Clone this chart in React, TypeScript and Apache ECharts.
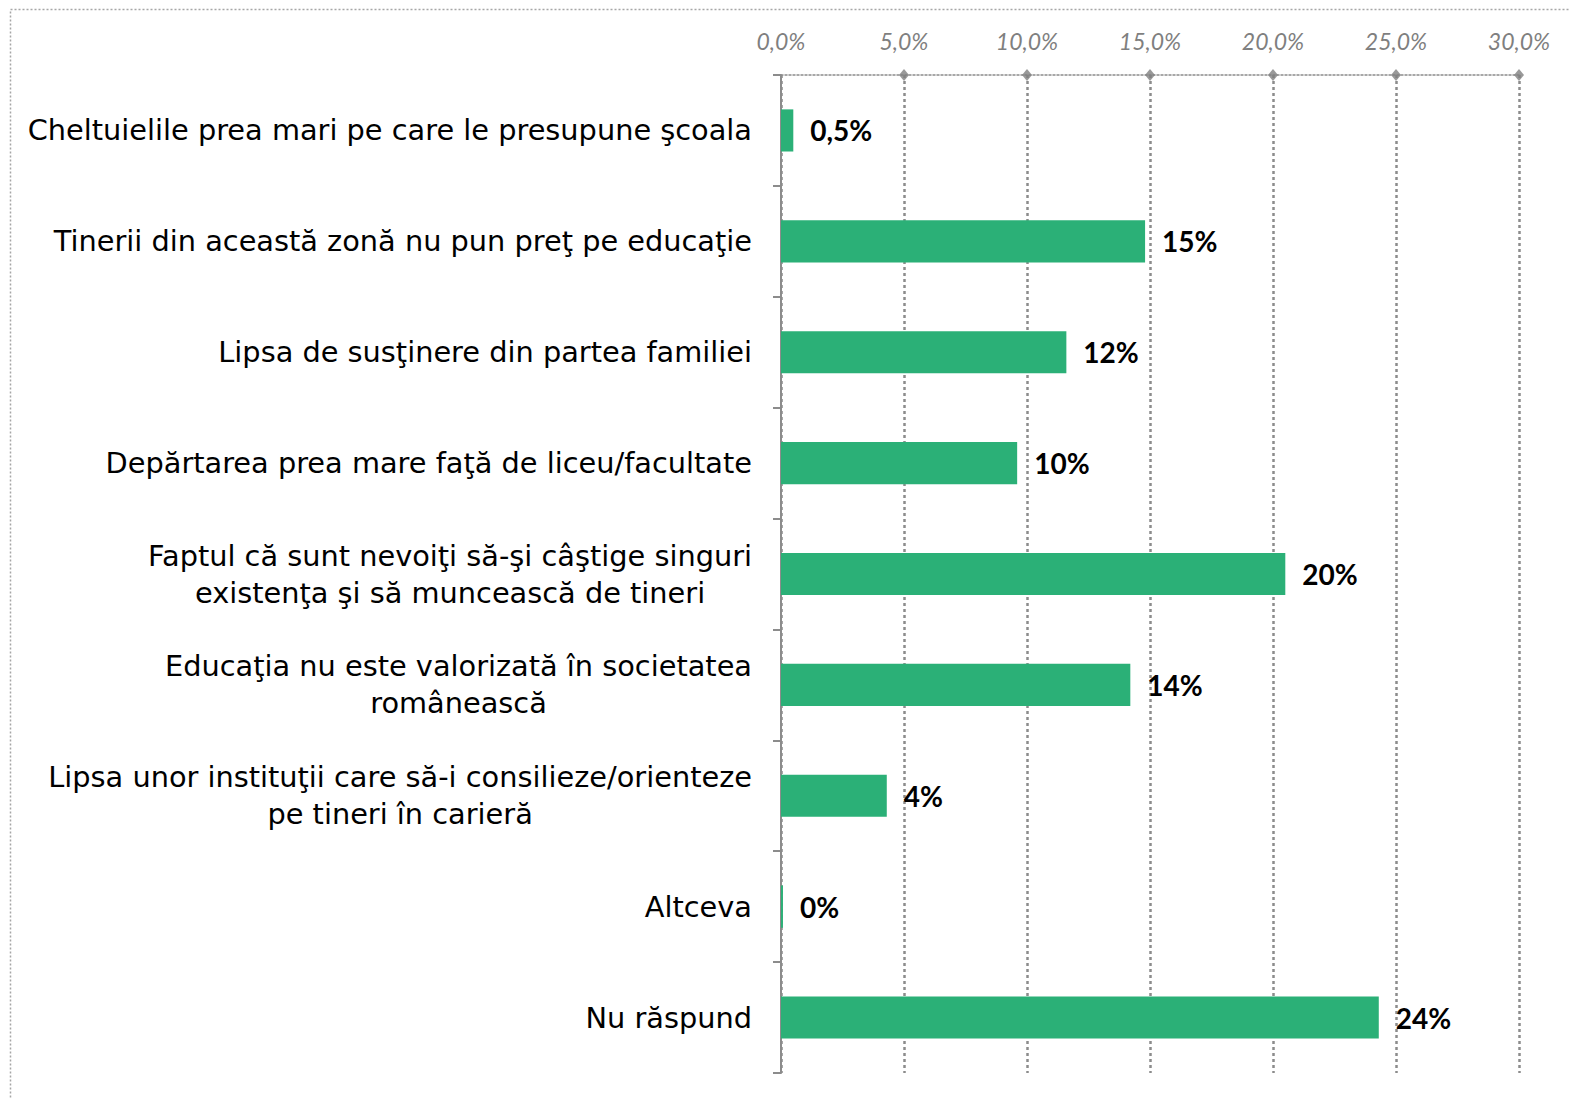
import React, { useEffect, useRef } from "react";
import * as echarts from "echarts";

const categories: string[] = [
  "Cheltuielile prea mari pe care le presupune şcoala",
  "Tinerii din această zonă nu pun preţ pe educaţie",
  "Lipsa de susţinere din partea familiei",
  "Depărtarea prea mare faţă de liceu/facultate",
  "Faptul că sunt nevoiţi să-şi câştige singuri\nexistenţa şi să muncească de tineri",
  "Educaţia nu este valorizată în societatea\nromânească",
  "Lipsa unor instituţii care să-i consilieze/orienteze\npe tineri în carieră",
  "Altceva",
  "Nu răspund",
];

const values: number[] = [0.5, 14.8, 11.6, 9.6, 20.5, 14.2, 4.3, 0.08, 24.3];
const valueLabels: string[] = ["0,5%", "15%", "12%", "10%", "20%", "14%", "4%", "0%", "24%"];
const tickMarks: number[] = [5, 10, 15, 20, 25, 30];

export default function App() {
  const ref = useRef<HTMLDivElement>(null);

  useEffect(() => {
    if (!ref.current) return;
    const chart = echarts.init(ref.current, null, { renderer: "svg" });
    const catFont = "DejaVu Sans";
    const catSize = 28.8;
    chart.setOption({
      animation: false,
      backgroundColor: "#ffffff",
      graphic: [
        {
          type: "rect",
          shape: { x: 10.5, y: 9.5, width: 1700, height: 1300 },
          style: { fill: "none", stroke: "#a6a6a6", lineWidth: 1.5, lineDash: [2, 2] },
          silent: true,
          z: 0,
        },
      ],
      grid: { left: 781, right: 51, top: 75, bottom: 26, containLabel: false },
      xAxis: {
        type: "value",
        position: "top",
        min: 0,
        max: 30,
        interval: 5,
        axisLine: {
          show: true,
          onZero: false,
          lineStyle: { color: "#8c8c8c", width: 1.5, type: [2, 2] },
        },
        axisTick: { show: false },
        axisLabel: {
          margin: 23,
          color: "#7f7f7f",
          fontStyle: "italic",
          fontFamily: "Lato",
          fontSize: 23,
          formatter: (v: number) => v.toFixed(1).replace(".", ",") + "%",
        },
        splitLine: { show: true, lineStyle: { color: "#8c8c8c", width: 2.5, type: [3, 3] } },
      },
      yAxis: [
        {
          type: "category",
          data: categories,
          inverse: true,
          splitLine: { show: false },
          axisLine: { show: true, lineStyle: { color: "#8c8c8c", width: 2 } },
          axisTick: { show: true, length: 8, lineStyle: { color: "#8c8c8c", width: 2 } },
          axisLabel: {
            margin: 29,
            color: "#000000",
            fontFamily: catFont,
            fontSize: catSize,
            lineHeight: 37,
            formatter: (v: string) =>
              v
                .split("\n")
                .map((l) => `{c|${l}}`)
                .join("\n"),
            rich: {
              c: {
                align: "center",
                fontFamily: catFont,
                fontSize: catSize,
                lineHeight: 37,
                color: "#000000",
              },
            },
          },
        },
        {
          type: "value",
          show: false,
          min: 0,
          max: 1,
          splitLine: { show: false },
          axisLine: { show: false },
          axisTick: { show: false },
          axisLabel: { show: false },
        },
      ],
      series: [
        {
          type: "bar",
          data: values,
          yAxisIndex: 0,
          barCategoryGap: "62%",
          itemStyle: { color: "#2bb077" },
          label: {
            show: true,
            position: "right",
            distance: 17,
            color: "#000000",
            fontFamily: "Lato",
            fontWeight: "bold",
            fontSize: 28,
            formatter: (p: any) => valueLabels[p.dataIndex],
          },
          z: 3,
        },
        {
          type: "scatter",
          yAxisIndex: 1,
          data: tickMarks.map((t) => [t, 1]),
          symbol: "diamond",
          symbolSize: [10, 12],
          itemStyle: { color: "#7f7f7f" },
          clip: false,
          silent: true,
          z: 4,
        },
      ],
    });
    return () => chart.dispose();
  }, []);

  return (
    <div
      ref={ref}
      style={{ position: "absolute", left: 0, top: 0, width: 1570, height: 1099 }}
    />
  );
}
